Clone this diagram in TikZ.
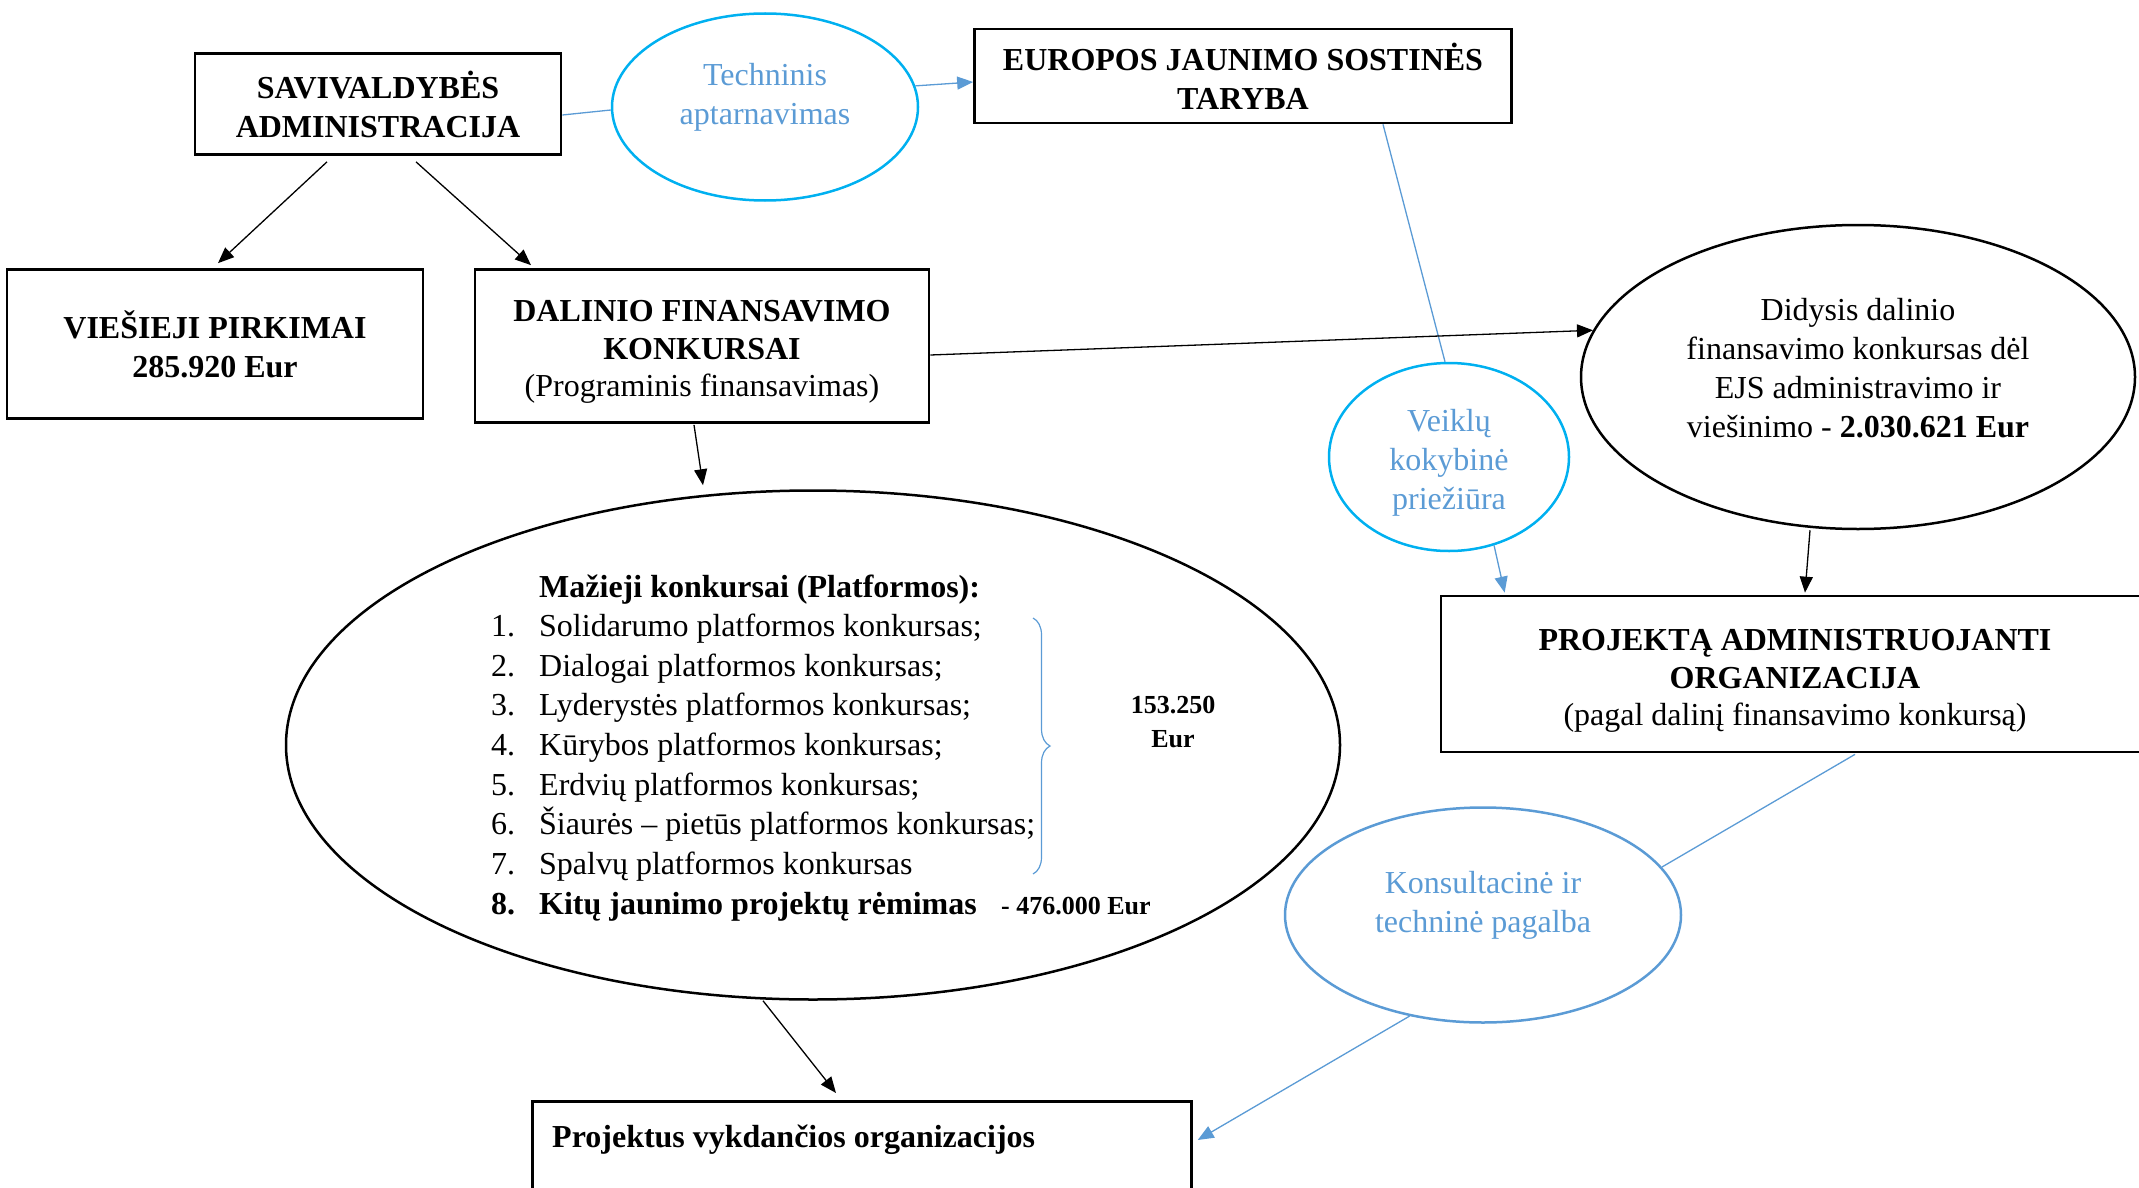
\documentclass[tikz,border=0pt]{standalone}
\usepackage{fontspec}
\setmainfont{Liberation Serif}
\usetikzlibrary{shapes.geometric,arrows.meta,calc,decorations.pathreplacing}
\definecolor{cyanb}{RGB}{0,176,240}
\definecolor{txtb}{RGB}{91,155,213}
\begin{document}
\begin{tikzpicture}[x=1pt,y=-1pt,
  every node/.style={font=\fontsize{32}{39}\selectfont},
  box/.style={draw,line width=2.7pt,inner sep=0pt,align=center},
  oval/.style={draw,ellipse,line width=2.5pt,inner sep=0pt},
  blueoval/.style={oval,draw=cyanb},
  txt/.style={align=center,inner sep=0pt},
  btxt/.style={txt,text=txtb},
  conn/.style={line width=1.3pt,-{Triangle[length=16pt,width=13pt]}},
  bconn/.style={line width=1.3pt,draw=txtb},
  barrow/.style={bconn,-{Triangle[length=16pt,width=13pt]},fill=txtb},
  lst/.style={anchor=base west,inner sep=0pt},
]
\useasboundingbox (0,0) rectangle (2139,1188);

% boxes
\node[box,minimum width=366,minimum height=101] (sav) at (378,104) {\textbf{SAVIVALDYBĖS}\\\textbf{ADMINISTRACIJA}};
\node[box,minimum width=537,minimum height=94] (eur) at (1243,76) {\textbf{EUROPOS JAUNIMO SOSTINĖS}\\\textbf{TARYBA}};
\node[box,minimum width=416,minimum height=149] (vies) at (215,344) {\textbf{VIEŠIEJI PIRKIMAI}\\\textbf{285.920 Eur}};
\node[box,minimum width=454,minimum height=153] (dal) at (702,346) {};
\node[txt,font=\fontsize{32}{37.5}\selectfont] (dalt) at (702,352) {\textbf{DALINIO FINANSAVIMO}\\\textbf{KONKURSAI}\\(Programinis finansavimas)};
\node[box,minimum width=708,minimum height=156] (adm) at (1795,674) {};
\node[txt,font=\fontsize{32}{37.5}\selectfont] (admt) at (1795,681) {\textbf{PROJEKTĄ ADMINISTRUOJANTI}\\\textbf{ORGANIZACIJA}\\(pagal dalinį finansavimo konkursą)};
\node[box,minimum width=659,minimum height=110,anchor=north west] (vyk) at (531,1100) {};
\node[lst] (vykt) at (552,1147) {\textbf{Projektus vykdančios organizacijos}};

% ellipses
\node[blueoval,minimum width=306,minimum height=187] (tech) at (765,107) {};
\node[btxt] (techt) at (765,97) {Techninis\\aptarnavimas};
\node[oval,minimum width=554,minimum height=304] (did) at (1858,377) {};
\node[txt] (didt) at (1858,368) {Didysis dalinio\\finansavimo konkursas dėl\\EJS administravimo ir\\viešinimo - \textbf{2.030.621 Eur}};
\node[blueoval,minimum width=240,minimum height=188] (veik) at (1449,457) {};
\node[btxt] (veikt) at (1449,463) {Veiklų\\kokybinė\\priežiūra};
\node[oval,draw=txtb,minimum width=396,minimum height=215] (kons) at (1483,915) {};
\node[btxt] (konst) at (1483,905) {Konsultacinė ir\\techninė pagalba};
\node[oval,minimum width=1054,minimum height=509] (maz) at (813,745) {};

% list inside the big ellipse
\node[lst] (mazh) at (539,597) {\textbf{Mažieji konkursai (Platformos):}};
\foreach \i/\t in {1/Solidarumo platformos konkursas;,2/Dialogai platformos konkursas;,3/Lyderystės platformos konkursas;,4/Kūrybos platformos konkursas;,5/Erdvių platformos konkursas;,6/Šiaurės – pietūs platformos konkursas;,7/Spalvų platformos konkursas} {
  \node[lst] (num\i) at (491,{597+39.6*\i}) {\i.};
  \node[lst] (item\i) at (539,{597+39.6*\i}) {\t};
}
\node[lst] (num8) at (491,914) {\textbf{8.}};
\node[lst] (item8) at (539,914) {\textbf{Kitų jaunimo projektų rėmimas}};
\node[lst,font=\fontsize{26}{30}\selectfont\bfseries] (amt2) at (1001,914) {- 476.000 Eur};
\node[txt,font=\fontsize{26}{34}\selectfont\bfseries] (amt1) at (1173,722) {153.250\\Eur};
\draw[txtb,line width=1.2pt,decorate,decoration={brace,amplitude=17pt}] (1033,618) -- (1033,874);

% connectors
\draw[conn] ($(sav.south)+(-51,6)$) -- ($(vies.north)+(3,-5)$);
\draw[conn] ($(sav.south)+(38,6)$) -- ($(dal.north)+(-171,-3)$);
\draw[bconn] ($(sav.east)+(0,11)$) -- ($(tech.west)+(0,3)$);
\draw[barrow] (tech.8) -- ($(eur.west)+(0,6)$);
\draw[bconn] ($(eur.south)+(140,0)$) -- ($(veik.north)+(-4,0)$);
\draw[barrow] (veik.-63) -- ($(adm.north west)+(65,-2)$);
\draw[conn] ($(dal.east)+(0,9)$) -- (did.170);
\draw[conn] ($(dal.south)+(-8,1)$) -- ($(maz.north)+(-110,-4)$);
\draw[conn] ($(did.south)+(-48,0)$) -- ($(adm.north)+(10,-2)$);
\draw[bconn] ($(adm.south)+(60,1)$) -- (kons.15);
\draw[barrow] (kons.-126) -- ($(vyk.north east)+(5,40)$);
\draw[conn] ($(maz.south)+(-50,0)$) -- ($(vyk.north west)+(305,-7)$);
\end{tikzpicture}
\end{document}
